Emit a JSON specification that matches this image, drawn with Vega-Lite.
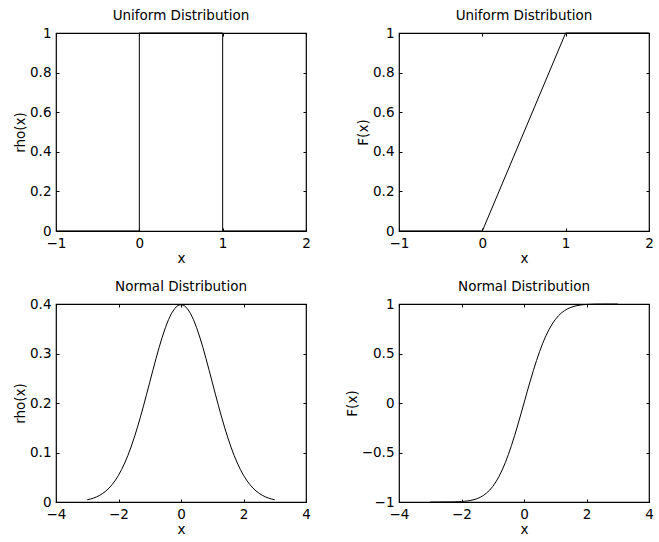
{
  "$schema": "https://vega.github.io/schema/vega-lite/v6.json",
  "padding": {"left": 12, "top": 7, "right": 5, "bottom": 5},
  "background": "white",
  "datasets": {
    "unifpdf": [
      {"i": 0, "x": -1, "y": 0}, {"i": 1, "x": 0, "y": 0}, {"i": 2, "x": 0, "y": 1},
      {"i": 3, "x": 1, "y": 1}, {"i": 4, "x": 1, "y": 0}, {"i": 5, "x": 2, "y": 0}
    ],
    "unifcdf": [
      {"x": -1, "y": 0}, {"x": 0, "y": 0}, {"x": 1, "y": 1}, {"x": 2, "y": 1}
    ],
    "normal": [
      {"x": -3.0, "pdf": 0.0044, "cdf": -1.0},
      {"x": -2.9, "pdf": 0.0060, "cdf": -1.0},
      {"x": -2.8, "pdf": 0.0079, "cdf": -0.9999},
      {"x": -2.7, "pdf": 0.0104, "cdf": -0.9999},
      {"x": -2.6, "pdf": 0.0136, "cdf": -0.9998},
      {"x": -2.5, "pdf": 0.0175, "cdf": -0.9996},
      {"x": -2.4, "pdf": 0.0224, "cdf": -0.9993},
      {"x": -2.3, "pdf": 0.0283, "cdf": -0.9989},
      {"x": -2.2, "pdf": 0.0355, "cdf": -0.9981},
      {"x": -2.1, "pdf": 0.0440, "cdf": -0.9970},
      {"x": -2.0, "pdf": 0.0540, "cdf": -0.9953},
      {"x": -1.9, "pdf": 0.0656, "cdf": -0.9928},
      {"x": -1.8, "pdf": 0.0790, "cdf": -0.9891},
      {"x": -1.7, "pdf": 0.0940, "cdf": -0.9838},
      {"x": -1.6, "pdf": 0.1109, "cdf": -0.9763},
      {"x": -1.5, "pdf": 0.1295, "cdf": -0.9661},
      {"x": -1.4, "pdf": 0.1497, "cdf": -0.9523},
      {"x": -1.3, "pdf": 0.1714, "cdf": -0.9340},
      {"x": -1.2, "pdf": 0.1942, "cdf": -0.9103},
      {"x": -1.1, "pdf": 0.2179, "cdf": -0.8802},
      {"x": -1.0, "pdf": 0.2420, "cdf": -0.8427},
      {"x": -0.9, "pdf": 0.2661, "cdf": -0.7969},
      {"x": -0.8, "pdf": 0.2897, "cdf": -0.7421},
      {"x": -0.7, "pdf": 0.3123, "cdf": -0.6778},
      {"x": -0.6, "pdf": 0.3332, "cdf": -0.6039},
      {"x": -0.5, "pdf": 0.3521, "cdf": -0.5205},
      {"x": -0.4, "pdf": 0.3683, "cdf": -0.4284},
      {"x": -0.3, "pdf": 0.3814, "cdf": -0.3286},
      {"x": -0.2, "pdf": 0.3910, "cdf": -0.2227},
      {"x": -0.1, "pdf": 0.3970, "cdf": -0.1125},
      {"x": 0.0, "pdf": 0.3989, "cdf": 0.0},
      {"x": 0.1, "pdf": 0.3970, "cdf": 0.1125},
      {"x": 0.2, "pdf": 0.3910, "cdf": 0.2227},
      {"x": 0.3, "pdf": 0.3814, "cdf": 0.3286},
      {"x": 0.4, "pdf": 0.3683, "cdf": 0.4284},
      {"x": 0.5, "pdf": 0.3521, "cdf": 0.5205},
      {"x": 0.6, "pdf": 0.3332, "cdf": 0.6039},
      {"x": 0.7, "pdf": 0.3123, "cdf": 0.6778},
      {"x": 0.8, "pdf": 0.2897, "cdf": 0.7421},
      {"x": 0.9, "pdf": 0.2661, "cdf": 0.7969},
      {"x": 1.0, "pdf": 0.2420, "cdf": 0.8427},
      {"x": 1.1, "pdf": 0.2179, "cdf": 0.8802},
      {"x": 1.2, "pdf": 0.1942, "cdf": 0.9103},
      {"x": 1.3, "pdf": 0.1714, "cdf": 0.9340},
      {"x": 1.4, "pdf": 0.1497, "cdf": 0.9523},
      {"x": 1.5, "pdf": 0.1295, "cdf": 0.9661},
      {"x": 1.6, "pdf": 0.1109, "cdf": 0.9763},
      {"x": 1.7, "pdf": 0.0940, "cdf": 0.9838},
      {"x": 1.8, "pdf": 0.0790, "cdf": 0.9891},
      {"x": 1.9, "pdf": 0.0656, "cdf": 0.9928},
      {"x": 2.0, "pdf": 0.0540, "cdf": 0.9953},
      {"x": 2.1, "pdf": 0.0440, "cdf": 0.9970},
      {"x": 2.2, "pdf": 0.0355, "cdf": 0.9981},
      {"x": 2.3, "pdf": 0.0283, "cdf": 0.9989},
      {"x": 2.4, "pdf": 0.0224, "cdf": 0.9993},
      {"x": 2.5, "pdf": 0.0175, "cdf": 0.9996},
      {"x": 2.6, "pdf": 0.0136, "cdf": 0.9998},
      {"x": 2.7, "pdf": 0.0104, "cdf": 0.9999},
      {"x": 2.8, "pdf": 0.0079, "cdf": 0.9999},
      {"x": 2.9, "pdf": 0.0060, "cdf": 1.0},
      {"x": 3.0, "pdf": 0.0044, "cdf": 1.0}
    ]
  },
  "columns": 2,
  "bounds": "flush",
  "spacing": {"row": 73, "column": 93},
  "concat": [
    {
      "width": 250, "height": 198,
      "title": "Uniform Distribution",
      "data": {"name": "unifpdf"},
      "layer": [
        {
          "mark": {"type": "line", "color": "black", "strokeWidth": 1},
          "encoding": {
            "x": {"field": "x", "type": "quantitative", "scale": {"domain": [-1, 2], "nice": false, "zero": false}, "axis": {"values": [-1, 0, 1, 2], "title": "x"}},
            "y": {"field": "y", "type": "quantitative", "scale": {"domain": [0, 1], "nice": false}, "axis": {"values": [0, 0.2, 0.4, 0.6, 0.8, 1], "title": "rho(x)"}},
            "order": {"field": "i"}
          }
        },
        {
          "mark": {"type": "line", "opacity": 0},
          "encoding": {
            "x": {"field": "x", "type": "quantitative", "axis": {"orient": "top", "values": [-1, 0, 1, 2], "labels": false, "title": null}},
            "y": {"field": "y", "type": "quantitative", "axis": {"orient": "right", "values": [0, 0.2, 0.4, 0.6, 0.8, 1], "labels": false, "title": null}},
            "order": {"field": "i"}
          }
        }
      ],
      "resolve": {"axis": {"x": "independent", "y": "independent"}}
    },
    {
      "width": 250, "height": 198,
      "title": "Uniform Distribution",
      "data": {"name": "unifcdf"},
      "layer": [
        {
          "mark": {"type": "line", "color": "black", "strokeWidth": 1},
          "encoding": {
            "x": {"field": "x", "type": "quantitative", "scale": {"domain": [-1, 2], "nice": false, "zero": false}, "axis": {"values": [-1, 0, 1, 2], "title": "x"}},
            "y": {"field": "y", "type": "quantitative", "scale": {"domain": [0, 1], "nice": false}, "axis": {"values": [0, 0.2, 0.4, 0.6, 0.8, 1], "title": "F(x)"}}
          }
        },
        {
          "mark": {"type": "line", "opacity": 0},
          "encoding": {
            "x": {"field": "x", "type": "quantitative", "axis": {"orient": "top", "values": [-1, 0, 1, 2], "labels": false, "title": null}},
            "y": {"field": "y", "type": "quantitative", "axis": {"orient": "right", "values": [0, 0.2, 0.4, 0.6, 0.8, 1], "labels": false, "title": null}}
          }
        }
      ],
      "resolve": {"axis": {"x": "independent", "y": "independent"}}
    },
    {
      "width": 250, "height": 198,
      "title": "Normal Distribution",
      "data": {"name": "normal"},
      "layer": [
        {
          "mark": {"type": "line", "color": "black", "strokeWidth": 1},
          "encoding": {
            "x": {"field": "x", "type": "quantitative", "scale": {"domain": [-4, 4], "nice": false, "zero": false}, "axis": {"values": [-4, -2, 0, 2, 4], "title": "x"}},
            "y": {"field": "pdf", "type": "quantitative", "scale": {"domain": [0, 0.4], "nice": false}, "axis": {"values": [0, 0.1, 0.2, 0.3, 0.4], "title": "rho(x)"}}
          }
        },
        {
          "mark": {"type": "line", "opacity": 0},
          "encoding": {
            "x": {"field": "x", "type": "quantitative", "axis": {"orient": "top", "values": [-4, -2, 0, 2, 4], "labels": false, "title": null}},
            "y": {"field": "pdf", "type": "quantitative", "axis": {"orient": "right", "values": [0, 0.1, 0.2, 0.3, 0.4], "labels": false, "title": null}}
          }
        }
      ],
      "resolve": {"axis": {"x": "independent", "y": "independent"}}
    },
    {
      "width": 250, "height": 198,
      "title": "Normal Distribution",
      "data": {"name": "normal"},
      "layer": [
        {
          "mark": {"type": "line", "color": "black", "strokeWidth": 1},
          "encoding": {
            "x": {"field": "x", "type": "quantitative", "scale": {"domain": [-4, 4], "nice": false, "zero": false}, "axis": {"values": [-4, -2, 0, 2, 4], "title": "x"}},
            "y": {"field": "cdf", "type": "quantitative", "scale": {"domain": [-1, 1], "nice": false, "zero": false}, "axis": {"values": [-1, -0.5, 0, 0.5, 1], "title": "F(x)"}}
          }
        },
        {
          "mark": {"type": "line", "opacity": 0},
          "encoding": {
            "x": {"field": "x", "type": "quantitative", "axis": {"orient": "top", "values": [-4, -2, 0, 2, 4], "labels": false, "title": null}},
            "y": {"field": "cdf", "type": "quantitative", "axis": {"orient": "right", "values": [-1, -0.5, 0, 0.5, 1], "labels": false, "title": null}}
          }
        }
      ],
      "resolve": {"axis": {"x": "independent", "y": "independent"}}
    }
  ],
  "config": {
    "font": "DejaVu Sans",
    "view": {"stroke": "black", "strokeWidth": 1.2},
    "axis": {
      "domain": false,
      "grid": false,
      "ticks": true,
      "tickSize": -3,
      "tickColor": "black",
      "format": "~g",
      "labelFont": "DejaVu Sans",
      "labelFontSize": 13.5,
      "labelColor": "black",
      "labelPadding": 8,
      "labelFlush": false,
      "labelOverlap": false,
      "titleFont": "DejaVu Sans",
      "titleFontSize": 13.5,
      "titleFontWeight": "normal",
      "titleColor": "black",
      "titlePadding": 2
    },
    "title": {"font": "DejaVu Sans", "fontSize": 13.5, "fontWeight": "normal", "color": "black", "offset": 4}
  }
}
